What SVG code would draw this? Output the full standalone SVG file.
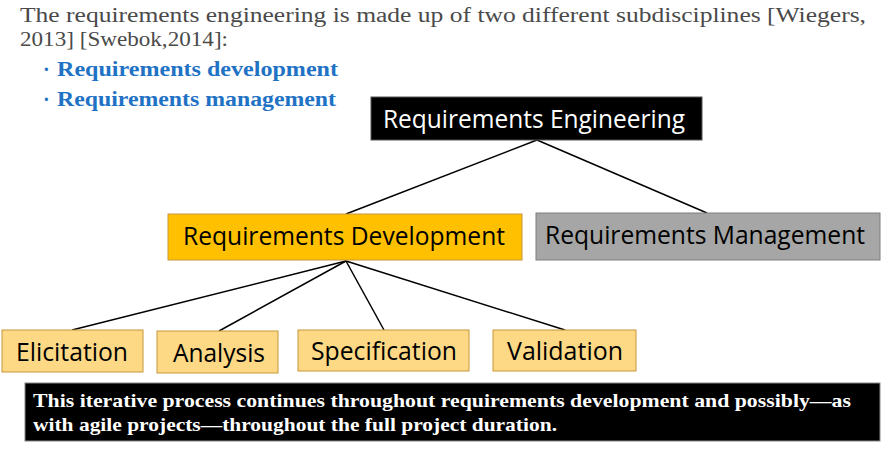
<svg xmlns="http://www.w3.org/2000/svg" width="885" height="450" viewBox="0 0 885 450">
<style>
.intro{font-family:"Liberation Serif","DejaVu Serif",serif;font-size:20px;fill:#4a4a4a}
.bul{font-family:"Liberation Serif","DejaVu Serif",serif;font-size:20px;font-weight:bold;fill:#1f72c4}
.nt{font-family:"Open Sans","Liberation Sans",sans-serif;font-size:25px;fill:#000}
.sub{fill:#fdd985;stroke:#c8963c;stroke-width:1}
.conn line{stroke:#000;stroke-width:1.5}
.note{font-family:"Liberation Serif","DejaVu Serif",serif;font-size:19px;font-weight:bold;fill:#fff}
</style>
<rect width="885" height="450" fill="#fff"/>
<text class="intro" x="20" y="22" textLength="846" lengthAdjust="spacingAndGlyphs">The requirements engineering is made up of two different subdisciplines [Wiegers,</text>
<text class="intro" x="20" y="46" textLength="208" lengthAdjust="spacingAndGlyphs">2013] [Swebok,2014]:</text>
<text class="bul" x="43" y="76">·</text>
<text class="bul" x="57" y="76" textLength="281" lengthAdjust="spacingAndGlyphs">Requirements development</text>
<text class="bul" x="43" y="106">·</text>
<text class="bul" x="57" y="106" textLength="279" lengthAdjust="spacingAndGlyphs">Requirements management</text>

<g class="conn" id="connectors">
<line x1="537" y1="140" x2="346" y2="214"/>
<line x1="537" y1="140" x2="707" y2="213"/>
<line x1="346" y1="261" x2="72" y2="330"/>
<line x1="346" y1="261" x2="219" y2="331"/>
<line x1="346" y1="261" x2="384" y2="330"/>
<line x1="346" y1="261" x2="565" y2="330"/>
</g>

<g id="req-eng">
<rect x="371" y="97" width="331" height="43" fill="#000" stroke="#555" stroke-width="1"/>
<text class="nt" x="383" y="128" style="fill:#fff" textLength="302" lengthAdjust="spacingAndGlyphs">Requirements Engineering</text>
</g>
<g id="req-dev">
<rect x="168" y="214" width="354" height="46" fill="#ffc000" stroke="#c8963c" stroke-width="1"/>
<text class="nt" x="183" y="245" textLength="322" lengthAdjust="spacingAndGlyphs">Requirements Development</text>
</g>
<g id="req-mgmt">
<rect x="536" y="213" width="344" height="47" fill="#a6a6a6" stroke="#7f7f7f" stroke-width="1"/>
<text class="nt" x="545" y="244" textLength="320" lengthAdjust="spacingAndGlyphs">Requirements Management</text>
</g>
<g id="elicitation">
<rect class="sub" x="2" y="330" width="141" height="42"/>
<text class="nt" x="16" y="361" textLength="112" lengthAdjust="spacingAndGlyphs">Elicitation</text>
</g>
<g id="analysis">
<rect class="sub" x="157" y="331" width="121" height="42"/>
<text class="nt" x="173" y="362" textLength="92" lengthAdjust="spacingAndGlyphs">Analysis</text>
</g>
<g id="specification">
<rect class="sub" x="298" y="330" width="171" height="41"/>
<text class="nt" x="311" y="360" textLength="146" lengthAdjust="spacingAndGlyphs">Specification</text>
</g>
<g id="validation">
<rect class="sub" x="493" y="330" width="143" height="41"/>
<text class="nt" x="507" y="360" textLength="116" lengthAdjust="spacingAndGlyphs">Validation</text>
</g>

<g id="note">
<rect x="25" y="383" width="855" height="58" fill="#000" stroke="#888" stroke-width="1"/>
<text class="note" x="33" y="407" textLength="818" lengthAdjust="spacingAndGlyphs">This iterative process continues throughout requirements development and possibly—as</text>
<text class="note" x="33" y="431" textLength="524" lengthAdjust="spacingAndGlyphs">with agile projects—throughout the full project duration.</text>
</g>
</svg>
